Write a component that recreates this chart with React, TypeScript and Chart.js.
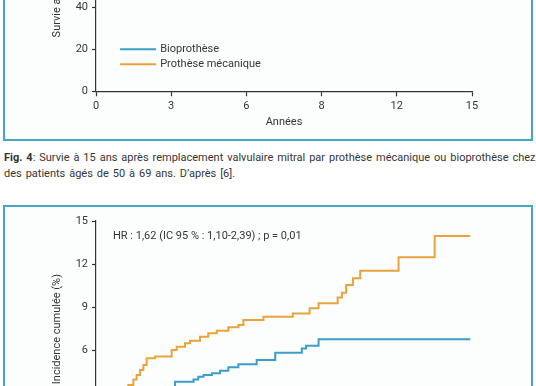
import React, { useEffect, useRef } from 'react';
import { Chart, registerables } from 'chart.js';

Chart.register(...registerables);

// ---------- data ----------
const xTickLabels = ['0', '3', '6', '8', '12', '15'];
const seriesLabels = ['Bioprothèse', 'Prothèse mécanique'];
const seriesColors = ['#3a9fc8', '#e8a33b'];

// Fig. 4 (survival) – curves lie above the visible window
const survivalBio: { x: number; y: number }[] = [];
const survivalMeca: { x: number; y: number }[] = [];

// Fig. 5 (cumulative incidence, %)
const bioYears = [0, 3.15, 3.89, 4.08, 4.29, 4.62, 4.95, 5.28, 5.68, 6.41, 7.15, 8.21, 8.38, 8.88, 14.93];
const bioIncidence = [0, 3.85, 4.01, 4.2, 4.31, 4.43, 4.61, 4.85, 5.06, 5.35, 5.86, 6.16, 6.35, 6.79, 6.79];
const mecaYears = [0, 1.29, 1.49, 1.62, 1.76, 1.89, 2.02, 2.36, 3.02, 3.22, 3.55, 3.75, 4.15, 4.48, 4.82, 5.28, 5.68, 5.88, 6.68, 7.85, 8.52, 8.88, 9.64, 9.81, 9.98, 10.25, 10.54, 12.07, 13.51, 14.93];
const mecaIncidence = [0, 3.62, 4.01, 4.31, 4.66, 5.01, 5.47, 5.6, 6.05, 6.28, 6.51, 6.69, 6.97, 7.21, 7.39, 7.62, 7.78, 8.13, 8.36, 8.59, 8.94, 9.29, 9.7, 10.02, 10.56, 11.02, 11.55, 12.48, 13.96, 13.96];

const caption1Bold = 'Fig. 4';
const caption1 = ': Survie à 15 ans après remplacement valvulaire mitral par prothèse mécanique ou bioprothèse chez';
const caption2 = 'des patients âgés de 50 à 69 ans. D’après [6].';
const hrText = 'HR : 1,62 (IC 95 % : 1,10-2,39) ; p = 0,01';

// ---------- styling ----------
const INK = '#353535';
const FONT = 'Roboto, "DejaVu Sans", sans-serif';
const BORDER = '#45a7c7';

const toPoints = (xs: number[], ys: number[]) => xs.map((x, i) => ({ x, y: ys[i] }));

const inlineLegend = {
  id: 'inlineLegend',
  afterDraw(chart: any, _args: any, opts: any) {
    const { ctx } = chart;
    const xs = chart.scales.x;
    const ys = chart.scales.y;
    const x0 = xs.getPixelForValue(opts.xStart);
    const x1 = xs.getPixelForValue(opts.xEnd);
    let yy = ys.getPixelForValue(opts.yValue);
    ctx.save();
    ctx.font = opts.font;
    ctx.textBaseline = 'middle';
    chart.data.datasets.forEach((ds: any) => {
      ctx.strokeStyle = ds.borderColor;
      ctx.lineWidth = 2;
      ctx.beginPath();
      ctx.moveTo(x0, yy);
      ctx.lineTo(x1, yy);
      ctx.stroke();
      ctx.fillStyle = opts.color;
      ctx.fillText(ds.label, x1 + opts.gap, yy);
      yy += opts.rowHeight;
    });
    ctx.restore();
  },
};

function makeScales(yMax: number, yStep: number, yTitle: string) {
  return {
    x: {
      type: 'linear',
      min: 0,
      max: 15,
      ticks: {
        stepSize: 3,
        color: INK,
        padding: 3,
        font: { family: FONT, size: 11 },
        callback: (_v: any, i: number) => xTickLabels[i],
      },
      grid: { drawOnChartArea: false, drawTicks: true, tickLength: 5, color: INK, tickWidth: 1.2 },
      border: { color: INK, width: 1.2 },
      title: { display: true, text: 'Années', color: INK, font: { family: FONT, size: 11 }, padding: { top: 0, bottom: 2 } },
      afterFit: (s: any) => { s.height = 40; },
    },
    y: {
      type: 'linear',
      min: 0,
      max: yMax,
      ticks: { stepSize: yStep, color: INK, padding: 4, font: { family: FONT, size: 11 } },
      grid: { drawOnChartArea: false, drawTicks: true, tickLength: 4, color: INK, tickWidth: 1.2 },
      border: { color: INK, width: 1.2 },
      title: { display: true, text: yTitle, color: INK, font: { family: FONT, size: 11 }, padding: { top: 51, bottom: 0 } },
      afterFit: (s: any) => { s.width = 96; },
    },
  };
}

function SurvivalChart() {
  const ref = useRef<HTMLCanvasElement>(null);
  useEffect(() => {
    const chart = new Chart(ref.current as HTMLCanvasElement, {
      type: 'line',
      data: {
        datasets: [
          { label: seriesLabels[0], data: survivalBio, borderColor: seriesColors[0], borderWidth: 2, pointRadius: 0, stepped: 'before' },
          { label: seriesLabels[1], data: survivalMeca, borderColor: seriesColors[1], borderWidth: 2, pointRadius: 0, stepped: 'before' },
        ],
      },
      options: {
        animation: false,
        responsive: false,
        layout: { padding: { left: 0, right: 64, top: 111.3, bottom: 8.7 } },
        plugins: {
          legend: { display: false },
          tooltip: { enabled: false },
          inlineLegend: { xStart: 0.96, xEnd: 2.4, yValue: 20, rowHeight: 15, gap: 4, font: `11px ${FONT}`, color: INK },
        } as any,
        scales: makeScales(100, 20, 'Survie actuarielle (%)') as any,
      },
      plugins: [inlineLegend],
    } as any);
    return () => chart.destroy();
  }, []);
  return <canvas ref={ref} width={536} height={370} style={{ position: 'absolute', left: 0, top: -230 }} />;
}

function IncidenceChart() {
  const ref = useRef<HTMLCanvasElement>(null);
  useEffect(() => {
    const chart = new Chart(ref.current as HTMLCanvasElement, {
      type: 'line',
      data: {
        datasets: [
          { label: seriesLabels[0], data: toPoints(bioYears, bioIncidence), borderColor: seriesColors[0], borderWidth: 2, pointRadius: 0, stepped: 'before' },
          { label: seriesLabels[1], data: toPoints(mecaYears, mecaIncidence), borderColor: seriesColors[1], borderWidth: 2, pointRadius: 0, stepped: 'before' },
        ],
      },
      options: {
        animation: false,
        responsive: false,
        layout: { padding: { left: 0, right: 64, top: 21, bottom: 22.8 } },
        plugins: { legend: { display: false }, tooltip: { enabled: false } },
        scales: makeScales(15, 3, 'Incidence cumulée (%)') as any,
      },
    } as any);
    return () => chart.destroy();
  }, []);
  return <canvas ref={ref} width={536} height={300} style={{ position: 'absolute', left: 0, top: 200 }} />;
}

export default function App() {
  return (
    <div style={{ position: 'fixed', left: 0, top: 0, width: 536, height: 386, overflow: 'hidden', background: '#ffffff', fontFamily: FONT, color: INK }}>
      <div style={{ position: 'absolute', left: 3, top: -40, width: 530, height: 181, boxSizing: 'border-box', border: `2px solid ${BORDER}`, background: '#fcfdfd' }} />
      <SurvivalChart />
      <div style={{ position: 'absolute', left: 4, top: 150, width: 536, fontSize: 11, lineHeight: '15.5px', wordSpacing: '1.2px', whiteSpace: 'nowrap' }}>
        <div><b>{caption1Bold}</b>{caption1}</div>
        <div>{caption2}</div>
      </div>
      <div style={{ position: 'absolute', left: 3, top: 205, width: 530, height: 240, boxSizing: 'border-box', border: `2px solid ${BORDER}`, background: '#fcfdfd' }} />
      <IncidenceChart />
      <div style={{ position: 'absolute', left: 113, top: 228.5, fontSize: 11, lineHeight: '14px', whiteSpace: 'nowrap' }}>{hrText}</div>
    </div>
  );
}
